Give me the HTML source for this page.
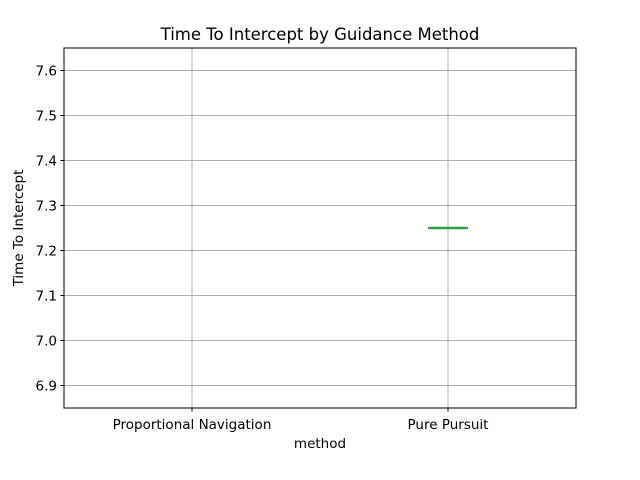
<!DOCTYPE html>
<html><head><meta charset="utf-8"><style>body{margin:0;background:#fff}svg{display:block;font-family:"DejaVu Sans","Liberation Sans",sans-serif}</style></head>
<body>
<svg id="chart" width="640" height="480">
<rect width="640" height="480" fill="#fff"/>
<text x="320" y="40" text-anchor="middle" font-size="16.5">Time To Intercept by Guidance Method</text>
<g id="grid"></g>
<g id="marks"></g>
<rect x="64" y="48" width="512" height="360" fill="none" stroke="#000" stroke-width="1"/>
<text x="320" y="448" text-anchor="middle" font-size="13.5">method</text>
<text transform="translate(23,228) rotate(-90)" text-anchor="middle" font-size="13.5">Time To Intercept</text>
</svg>
<script>
const categories = ["Proportional Navigation", "Pure Pursuit"];
const boxValues = [null, 7.25];
const yTicks = [6.9, 7.0, 7.1, 7.2, 7.3, 7.4, 7.5, 7.6];
const yMin = 6.85, yMax = 7.65;
const L=64,R=576,T=48,B=408;
const ns="http://www.w3.org/2000/svg";
const y=v=>B-(v-yMin)/(yMax-yMin)*(B-T);
const x=i=>L+(i+0.5)*(R-L)/categories.length;
const grid=document.getElementById('grid'), marks=document.getElementById('marks');
function mk(tag,attrs,parent){const e=document.createElementNS(ns,tag);for(const k in attrs)e.setAttribute(k,attrs[k]);parent.appendChild(e);return e;}
yTicks.forEach(t=>{
  const g=mk('line',{x1:L,x2:R,y1:y(t),y2:y(t),stroke:'#b0b0b0','stroke-width':1},grid);
  
  
  mk('line',{x1:L-3.5,x2:L,y1:y(t),y2:y(t),stroke:'#000'},grid);
  const tx=mk('text',{x:L-7,y:y(t)+5,'text-anchor':'end','font-size':13.5},grid);
  tx.textContent=t.toFixed(1);
  
  
});
categories.forEach((c,i)=>{
  const g=mk('line',{x1:x(i),x2:x(i),y1:T,y2:B,stroke:'#b0b0b0','stroke-width':1},grid);
  
  
  mk('line',{x1:x(i),x2:x(i),y1:B,y2:B+3.5,stroke:'#000'},grid);
  const tx=mk('text',{x:x(i),y:B+21,'text-anchor':'middle','font-size':13.5},grid);
  tx.textContent=c;
  
  
  const v=boxValues[i];
  if(v!==null){
    const bw=40;
    const b=mk('line',{x1:x(i)-bw/2,x2:x(i)+bw/2,y1:y(v),y2:y(v),stroke:'#5b9bc8','stroke-width':2.5},marks);
    
    
    const m=mk('line',{x1:x(i)-bw/2+2,x2:x(i)+bw/2-2,y1:y(v),y2:y(v),stroke:'#2ca02c','stroke-width':2},marks);
    
    
  }
});
</script>
</body></html>
